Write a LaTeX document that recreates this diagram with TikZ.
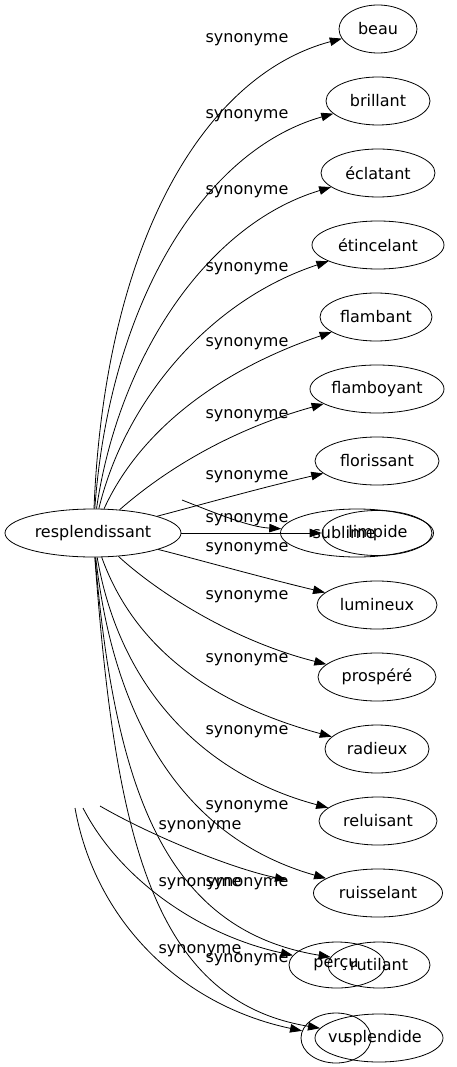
\documentclass[tikz,border=0pt]{standalone}
\usepackage{fontspec}
\setmainfont{DejaVu Sans}
\usetikzlibrary{shapes.geometric,arrows.meta}
\tikzset{
  wnode/.style={draw, ellipse, inner sep=0pt, minimum height=48pt, line width=0.8pt},
  lbl/.style={inner sep=0pt},
  syn/.style={draw, line width=0.8pt, -{Triangle[length=12pt,width=8.5pt]}},
}
\begin{document}
\begin{tikzpicture}[x=1pt,y=-1pt, font=\fontsize{16}{19}\selectfont]
\useasboundingbox (0,0) rectangle (457,1067);
% nodes
\node[wnode, minimum width=176pt] (res) at (93,533) {resplendissant};
\node[wnode, minimum width=78pt] (beau) at (378,29) {beau};
\node[wnode, minimum width=104pt] (bri) at (378,101) {brillant};
\node[wnode, minimum width=114pt] (ecl) at (378,173) {éclatant};
\node[wnode, minimum width=132pt] (eti) at (378,245) {étincelant};
\node[wnode, minimum width=112pt] (fla) at (376,317) {flambant};
\node[wnode, minimum width=134pt] (flb) at (377,389) {flamboyant};
\node[wnode, minimum width=124pt] (flo) at (377,461) {florissant};
\node[wnode, minimum width=153pt] (sub) at (357,533) {};
\node[wnode, minimum width=110pt, minimum height=45pt] (lim) at (377,533) {};
\node[lbl] (subt) at (344,533) {sublime};
\node[lbl] (limt) at (378,533) {limpide};
\node[wnode, minimum width=120pt] (lum) at (377,605) {lumineux};
\node[wnode, minimum width=118pt] (pro) at (377,677) {prospéré};
\node[wnode, minimum width=104pt] (rad) at (377,749) {radieux};
\node[wnode, minimum width=118pt] (rel) at (378,821) {reluisant};
\node[wnode, minimum width=129pt] (rui) at (378,893) {ruisselant};
\node[wnode, minimum width=96pt, minimum height=46pt] (per) at (337,965) {};
\node[wnode, minimum width=102pt, minimum height=46pt] (rut) at (379,965) {};
\node[lbl] (pert) at (336,965) {perçu};
\node[lbl] (rutt) at (379,965) {rutilant};
\node[wnode, minimum width=70pt, minimum height=50pt] (vu) at (336,1038) {};
\node[wnode, minimum width=128pt] (spl) at (379,1038) {};
\node[lbl] (vut) at (338,1038) {vu};
\node[lbl] (splt) at (383,1038) {splendide};
% free ends
\coordinate (a1) at (182,500);
\coordinate (a2) at (100,806);
\coordinate (a3) at (83,808);
\coordinate (a4) at (75,808);
\coordinate (b2) at (287,880);
% main edges
\draw[syn] (res) .. controls (105,240) and (205,75) .. (beau);
\draw[syn] (res) .. controls (110,300) and (205,150) .. (bri);
\draw[syn] (res) .. controls (118,360) and (205,225) .. (ecl);
\draw[syn] (res) .. controls (125,400) and (210,300) .. (eti);
\draw[syn] (res) .. controls (140,430) and (220,370) .. (fla);
\draw[syn] (res) .. controls (165,470) and (230,430) .. (flb);
\draw[syn] (res) .. controls (200,505) and (260,488) .. (flo);
\draw[syn] (res) -- (lim);
\draw[syn] (res) .. controls (200,560) and (260,577) .. (lum);
\draw[syn] (res) .. controls (155,590) and (230,640) .. (pro);
\draw[syn] (res) .. controls (135,650) and (215,705) .. (rad);
\draw[syn] (res) .. controls (120,690) and (205,775) .. (rel);
\draw[syn] (res) .. controls (115,730) and (190,840) .. (rui);
\draw[syn] (res) .. controls (115,790) and (165,930) .. (rut);
\draw[syn] (res) .. controls (115,830) and (150,1000) .. (spl);
% stray edges
\draw[syn] (a1) .. controls (220,515) and (250,527) .. (sub);
\draw[syn] (a2) .. controls (150,835) and (230,868) .. (b2);
\draw[syn] (a3) .. controls (120,880) and (200,935) .. (per);
\draw[syn] (a4) .. controls (95,920) and (180,1005) .. (vu);
% labels
\node[lbl] (l1) at (247,40) {synonyme};
\node[lbl] (l2) at (247,116) {synonyme};
\node[lbl] (l3) at (247,192) {synonyme};
\node[lbl] (l4) at (247,269) {synonyme};
\node[lbl] (l5) at (247,344) {synonyme};
\node[lbl] (l6) at (247,416) {synonyme};
\node[lbl] (l7) at (247,477) {synonyme};
\node[lbl] (l8) at (247,520) {synonyme};
\node[lbl] (l9) at (247,549) {synonyme};
\node[lbl] (l10) at (247,597) {synonyme};
\node[lbl] (l11) at (247,660) {synonyme};
\node[lbl] (l12) at (247,732) {synonyme};
\node[lbl] (l13) at (247,807) {synonyme};
\node[lbl] (l14) at (200,827) {synonyme};
\node[lbl] (l15) at (200,884) {synonyme};
\node[lbl] (l16) at (247,884) {synonyme};
\node[lbl] (l17) at (200,951) {synonyme};
\node[lbl] (l18) at (247,960) {synonyme};
\end{tikzpicture}
\end{document}
